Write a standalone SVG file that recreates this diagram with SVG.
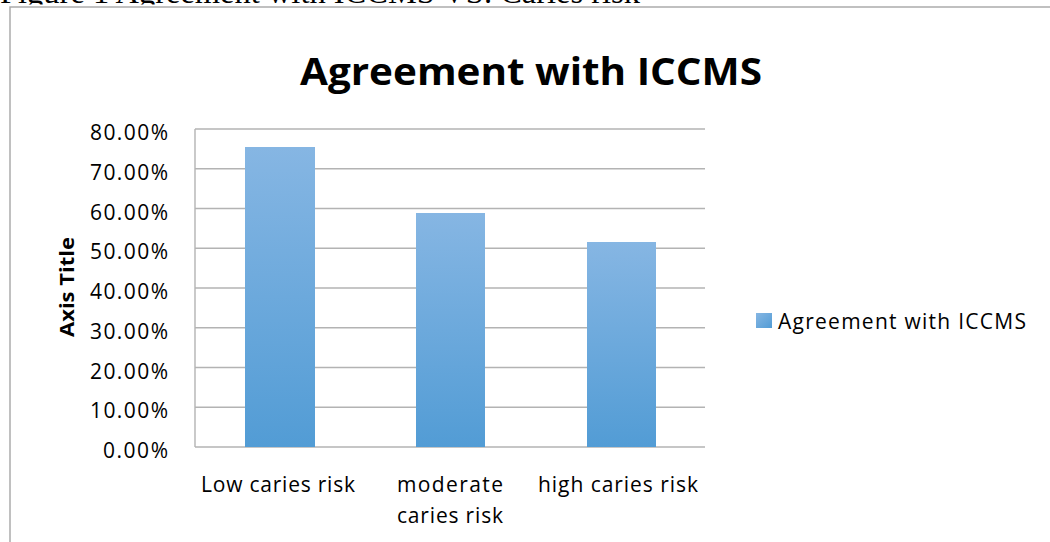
<svg xmlns="http://www.w3.org/2000/svg" width="1050" height="542" viewBox="0 0 1050 542">
<defs>
<linearGradient id="barGrad" x1="0" y1="0" x2="0" y2="1">
<stop offset="0" stop-color="#86B6E3"/>
<stop offset="1" stop-color="#529CD5"/>
</linearGradient>
<linearGradient id="legGrad" x1="0" y1="0" x2="1" y2="1">
<stop offset="0" stop-color="#86B6E3"/>
<stop offset="1" stop-color="#529CD5"/>
</linearGradient>
<style>
.grid{stroke:#B3B3B3;stroke-width:1.4;fill:none}
.tick{font-family:"Open Sans","Liberation Sans",sans-serif;font-size:21px;fill:#000}
.cat{font-family:"Open Sans","Liberation Sans",sans-serif;font-size:21px;fill:#000;text-anchor:middle}
.bar{fill:url(#barGrad)}
</style>
</defs>
<rect width="1050" height="542" fill="#fff"/>
<text x="0" y="3" font-family="Liberation Serif, serif" font-size="32" fill="#000" textLength="640" lengthAdjust="spacingAndGlyphs">Figure 1 Agreement with ICCMS VS. Caries risk</text>
<rect x="0" y="4.5" width="1050" height="540" fill="#fff"/>
<rect id="chart-frame" x="10" y="7" width="1060" height="560" fill="#fff" stroke="#A6A6A6" stroke-width="1.4"/>
<text id="title" x="531" y="85" font-family="Open Sans, Liberation Sans, sans-serif" font-weight="bold" font-size="37" text-anchor="middle" textLength="462" lengthAdjust="spacingAndGlyphs">Agreement with ICCMS</text>
<g id="gridlines">
<line class="grid" x1="195" y1="129" x2="705" y2="129"/>
<line class="grid" x1="195" y1="168.75" x2="705" y2="168.75"/>
<line class="grid" x1="195" y1="208.5" x2="705" y2="208.5"/>
<line class="grid" x1="195" y1="248.25" x2="705" y2="248.25"/>
<line class="grid" x1="195" y1="288" x2="705" y2="288"/>
<line class="grid" x1="195" y1="327.75" x2="705" y2="327.75"/>
<line class="grid" x1="195" y1="367.5" x2="705" y2="367.5"/>
<line class="grid" x1="195" y1="407.25" x2="705" y2="407.25"/>
<line class="grid" x1="195" y1="447" x2="705" y2="447"/>
<line class="grid" x1="195" y1="129" x2="195" y2="447"/>
</g>
<g id="y-axis" text-anchor="end">
<text class="tick" x="168" y="140" textLength="78">80.00%</text>
<text class="tick" x="168" y="179.75" textLength="78">70.00%</text>
<text class="tick" x="168" y="219.5" textLength="78">60.00%</text>
<text class="tick" x="168" y="259.25" textLength="78">50.00%</text>
<text class="tick" x="168" y="299" textLength="78">40.00%</text>
<text class="tick" x="168" y="338.75" textLength="78">30.00%</text>
<text class="tick" x="168" y="378.5" textLength="78">20.00%</text>
<text class="tick" x="168" y="418.25" textLength="78">10.00%</text>
<text class="tick" x="168" y="458" textLength="65">0.00%</text>
</g>
<text id="axis-title" transform="translate(74,287) rotate(-90)" font-family="Open Sans, Liberation Sans, sans-serif" font-weight="bold" font-size="20" text-anchor="middle" textLength="100" lengthAdjust="spacingAndGlyphs">Axis Title</text>
<g id="bar-low"><rect class="bar" x="245" y="147" width="70" height="300"/></g>
<g id="bar-moderate"><rect class="bar" x="416" y="213" width="69" height="234"/></g>
<g id="bar-high"><rect class="bar" x="587" y="242" width="69" height="205"/></g>
<g id="x-axis">
<text class="cat" x="278" y="492" textLength="154">Low caries risk</text>
<text class="cat" x="450" y="492" textLength="106">moderate</text>
<text class="cat" x="450" y="523" textLength="106">caries risk</text>
<text class="cat" x="618" y="492" textLength="160">high caries risk</text>
</g>
<g id="legend">
<rect x="756" y="313" width="16" height="15" fill="url(#legGrad)"/>
<text class="tick" x="778" y="329" textLength="248">Agreement with ICCMS</text>
</g>
</svg>
